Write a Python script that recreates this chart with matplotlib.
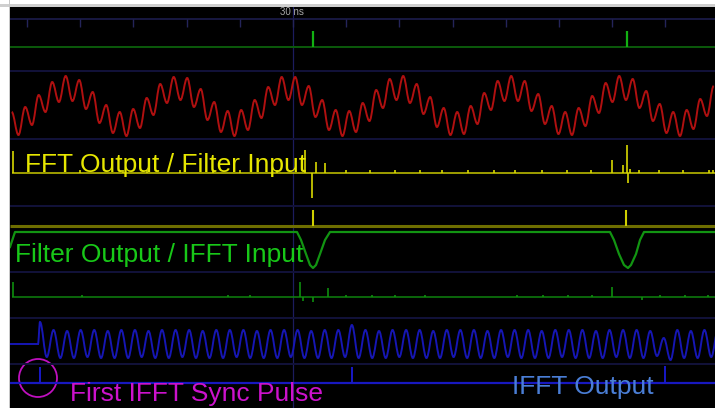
import numpy as np
import matplotlib.pyplot as plt
from matplotlib.patches import Circle, Rectangle, PathPatch
from matplotlib.path import Path

# time axis is in display samples of the analyser capture (1 sample per column)
cursor_t = 283
tick_first, tick_step = 17, 53.2

# ADC input (red): alternating peak / trough values, one every red_step samples
red_start, red_step = 1.7, 6.75
red_vals = [-6, -29, -1, -19, 11, -6, 24, 4, 30, 5,
            26, -3, 14, -17, 1, -27, -6, -30, -3, -22,
            8, -9, 22, 3, 29, 6, 28, -1, 17, -14,
            4, -26, -5, -30, -4, -24, 6, -12, 19, 1,
            29, 6, 29, 1, 20, -11, 6, -24, -4, -30,
            -5, -26, 3, -15, 16, -2, 27, 6, 30, 3,
            22, -8, 9, -21, -2, -29, -6, -28, 0, -18,
            13, -4, 25, 5, 30, 5, 25, -5, 12, -18,
            0, -28, -6, -29, -2, -20, 10, -7, 23, 4,
            30, 6, 27, -2, 15, -15, 2, -27, -6, -30,
            -4, -23, 7, -10, 20]

# IFFT output (blue): idle until blue_start, then peak / trough values
blue_idle_end, blue_start, blue_step = 28, 30, 6.78
blue_vals = [22, -13, 14, -14, 13, -14, 14, -13, 14, -14,
             13, -14, 14, -14, 14, -13, 13, -14, 14, -14,
             14, -13, 14, -14, 13, -14, 14, -14, 14, -13,
             14, -14, 13, -14, 14, -14, 14, -13, 14, -14,
             13, -14, 14, -14, 14, -13, 19, -14, 14, -14,
             13, -14, 14, -13, 14, -14, 14, -14, 13, -14,
             14, -13, 14, -14, 14, -14, 13, -14, 14, -13,
             14, -14, 14, -14, 13, -14, 14, -13, 14, -14,
             14, -14, 13, -14, 14, -13, 14, -14, 14, -14,
             13, -12, 6, -16, 14, -14, 13, -14, 14, -13,
             14]

# FFT output / filter input (yellow)
fft_t = [3, 70, 113, 137, 170, 203, 230, 267, 295, 302, 306, 315, 336,
         360, 385, 410, 432, 458, 484, 505, 532, 557, 581,
         602, 613, 617, 618, 620, 629, 649, 673, 699, 703]
fft_v = [22, 3, 3, 3, 3, 3, 3, 3, 23, -25, 11, 10, 3,
         3, 3, 3, 3, 3, 3, 3, 3, 3, 3,
         13, 8, 28, -10, 4, 3, 3, 3, 3, 3]

# sync pulses
fft_sync_t = [303, 616]
fft_sync_v = [16, 16]
top_sync_t = [303, 617]
top_sync_v = [16, 16]
ifft_sync_t = [30, 342, 655]
ifft_sync_v = [16, 16, 17]

# filter output / IFFT input (green)
filt_t = [0, 5, 287, 291, 296, 300, 303, 306, 310, 315, 320,
          600, 604, 609, 614, 618, 621, 626, 630, 634, 705]
filt_v = [-15, 0, 0, -8, -22, -33, -36, -33, -22, -8, 0,
          0, -8, -22, -33, -36, -33, -22, -8, 0, 0]

# IFFT input data strobe (dark green)
strobe_t = [3, 72, 218, 240, 290, 293, 303, 318, 336, 362, 385, 415,
            507, 533, 558, 582, 602, 632, 650, 675, 698]
strobe_v = [15, 2, 2, 2, 15, -4, -5, 9, 2, 2, 2, 2,
            2, 2, 2, 2, 10, -3, 2, 2, 2]

# lane baselines and separators (display rows)
lane_ruler, lane_top, lane_red, lane_fft = 12, 40, 99, 166
lane_fft_sync, lane_filt, lane_strobe = 219, 225, 290
lane_ifft, lane_ifft_sync = 337, 376
separators = [64, 132, 199, 265, 311, 357]


def wave_patch(t, y, **kw):
    # smooth trace through the sampled extremes (cubic segments, flat at each extreme)
    verts = [(t[0], y[0])]
    codes = [Path.MOVETO]
    for i in range(1, len(t)):
        d = (t[i] - t[i - 1]) * 0.37
        verts += [(t[i - 1] + d, y[i - 1]), (t[i] - d, y[i]), (t[i], y[i])]
        codes += [Path.CURVE4] * 3
    return PathPatch(Path(verts, codes), fill=False, **kw)


fig = plt.figure(figsize=(7.15, 4.08), dpi=100)
fig.patch.set_facecolor('white')
fig.patches.append(Rectangle((0, 401 / 408), 1, 3 / 408, transform=fig.transFigure,
                             facecolor='#cfcfcf', edgecolor='none', zorder=0))
fig.patches.append(Rectangle((9 / 715, 0), 1 / 715, 1, transform=fig.transFigure,
                             facecolor='#c8c8c8', edgecolor='none', zorder=0))

ax = fig.add_axes([10 / 715, 0, 705 / 715, 401 / 408])
ax.set_facecolor('black')
ax.set_xlim(0, 705)
ax.set_ylim(401, 0)
ax.set_xticks([])
ax.set_yticks([])
for s in ax.spines.values():
    s.set_visible(False)

# grid: ruler, separators, cursor
ax.axhline(lane_ruler, color='#1c1c4c', lw=1.2)
ticks = np.arange(tick_first, 705, tick_step)
ax.vlines(ticks, lane_ruler, lane_ruler + 8, color='#24245a', lw=1)
for y in separators:
    ax.axhline(y, color='#12123a', lw=1.4)
ax.axvline(cursor_t, color='#1c1c5e', lw=0.9, zorder=1)
ax.text(cursor_t - 1, 5, '30 ns', color='#a8a8a8', fontsize=7, ha='center', va='center',
        family='Liberation Sans')

# top sync lane
ax.axhline(lane_top, color='#0b5a0b', lw=1.4)
ax.vlines(top_sync_t, lane_top, lane_top - np.array(top_sync_v), color='#12b012', lw=1.6)

# red input
rt = red_start + red_step * np.arange(len(red_vals))
ax.add_patch(wave_patch(rt, lane_red - np.array(red_vals), edgecolor='#b01010', lw=1.4))

# yellow FFT output
ax.hlines(lane_fft, 2, 705, color='#c8c800', lw=1.1)
ax.vlines(fft_t, lane_fft, lane_fft - np.array(fft_v), color='#d8d800', lw=1.2)
ax.hlines(lane_fft_sync, 0, 705, color='#6e6e00', lw=2.2)
ax.vlines(fft_sync_t, lane_fft_sync, lane_fft_sync - np.array(fft_sync_v), color='#d0d000', lw=1.5)

# green filter output
ax.plot(filt_t, lane_filt - np.array(filt_v), color='#129412', lw=1.6)

# dark green strobe
ax.hlines(lane_strobe, 2, 705, color='#0e820e', lw=1.1)
ax.vlines(strobe_t, lane_strobe, lane_strobe - np.array(strobe_v), color='#0e8e0e', lw=1.2)

# blue IFFT output
ax.plot([0, blue_idle_end], [lane_ifft, lane_ifft], color='#1616b4', lw=1.4)
bt = np.concatenate([[blue_idle_end], blue_start + blue_step * np.arange(len(blue_vals))])
bv = np.concatenate([[0], blue_vals])
ax.add_patch(wave_patch(bt, lane_ifft - bv, edgecolor='#1616b4', lw=1.4))

# IFFT sync
ax.axhline(lane_ifft_sync, color='#1818c0', lw=1.6)
ax.vlines(ifft_sync_t, lane_ifft_sync, lane_ifft_sync - np.array(ifft_sync_v), color='#1818c8', lw=1.4)

# annotations
lab = dict(fontsize=19, family='Liberation Sans', va='baseline', ha='left')
ax.text(15, 165, 'FFT Output / Filter Input', color='#e6e600', **lab)
ax.text(5, 255, 'Filter Output / IFFT Input', color='#18c818', **lab)
ax.text(60, 394, 'First IFFT Sync Pulse', color='#cc12cc', **lab)
ax.text(502, 387, 'IFFT Output', color='#4a7ed6', **lab)
ax.add_patch(Circle((28, 371), 19, fill=False, edgecolor='#c010c0', lw=1.3))

fig.savefig('out.png', dpi=100)
